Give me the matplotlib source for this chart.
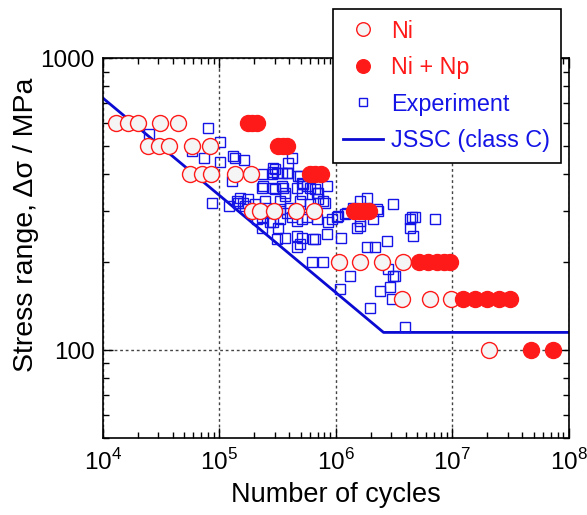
import math

import matplotlib
matplotlib.use("Agg")
import matplotlib.pyplot as plt
from matplotlib.ticker import FixedLocator, FuncFormatter, LogLocator, NullFormatter

plt.rcParams["font.family"] = ["Liberation Sans", "DejaVu Sans"]
plt.rcParams["mathtext.fontset"] = "custom"
plt.rcParams["mathtext.rm"] = "Liberation Sans"

# Ni (open circles): cycles, stress range (MPa)
ni_n = [1.29e4, 1.64e4, 2.02e4, 3.12e4, 4.42e4,
        2.46e4, 3.06e4, 3.72e4, 5.83e4, 8.34e4,
        5.64e4, 7.06e4, 8.53e4, 1.36e5, 1.87e5,
        1.90e5, 2.24e5, 2.93e5, 4.56e5, 6.46e5,
        1.07e6, 1.63e6, 2.51e6, 3.80e6,
        3.69e6, 6.5e6, 9.7e6,
        2.07e7]
ni_s = [600, 600, 600, 600, 600,
        500, 500, 500, 500, 500,
        400, 400, 400, 400, 400,
        300, 300, 300, 300, 300,
        200, 200, 200, 200,
        150, 150, 150,
        100]

# Ni + Np (filled circles)
np_n = [1.76e5, 1.91e5, 2.10e5,
        3.18e5, 3.52e5, 3.81e5,
        6.0e5, 6.62e5, 7.45e5,
        1.43e6, 1.58e6, 1.74e6, 1.92e6,
        5.16e6, 6.17e6, 7.36e6, 8.45e6, 9.5e6,
        1.24e7, 1.57e7, 2.0e7, 2.53e7, 3.14e7,
        4.78e7, 7.33e7]
np_s = [600, 600, 600,
        500, 500, 500,
        400, 400, 400,
        300, 300, 300, 300,
        200, 200, 200, 200, 200,
        150, 150, 150, 150, 150,
        100, 100]

# Experiment (open squares)
exp_n = [2.5e4, 8.0e4, 5.8e4, 7.4e4, 1.01e5, 1.01e5, 1.36e5, 1.64e5, 1.28e5, 2.39e5,
         2.31e5, 8.6e4, 1.22e5, 2.9e5, 3.43e5, 3.91e5, 4.18e5, 3.91e5, 4.92e5, 5.09e5,
         8.34e5, 7.06e5, 2.39e5, 2.9e5, 3.43e5, 3.66e5, 3.0e5, 2.81e5, 3.78e5, 4.76e5,
         6.62e5, 5.62e5, 5.09e5, 3.54e5, 3.66e5, 3.0e5, 7.8e5, 7.06e5, 1.05e6, 9.2e5,
         8.6e5, 1.2e6, 2.9e5, 3.32e5, 4.18e5, 5.09e5, 3.66e5, 5.09e5, 6.62e5, 8.34e5,
         1.12e6, 6.2e5, 7.8e5, 1.08e6, 1.32e5, 2.9e5, 3.11e5, 4.61e5, 5.25e5, 6.0e5,
         6.84e5, 1.41e5, 1.61e5, 2.47e5, 3.32e5, 4.92e5, 6.0e5, 8.07e5, 2.09e5, 2.72e5,
         4.61e5, 5.62e5, 6.84e5, 1.02e6, 3.11e5, 4.61e5, 6.4e5, 4.61e5, 4.92e5, 1.32e6,
         3.11e6, 1.84e6, 1.66e6, 2.24e6, 1.61e6, 4.47e6, 4.32e6, 4.61e6, 7.08e6, 2.73e6,
         1.84e6, 2.16e6, 3.11e6, 2.91e6, 2.39e6, 3.01e6, 1.96e6, 3.92e6, 1.61e6, 1.41e6,
         1.24e6, 2.31e6, 2.09e6, 1.61e6, 1.51e6, 4.32e6, 4.77e6, 2.81e6, 3.21e6,
         1.51e5, 1.76e5, 2.02e5, 2.15e5, 2.5e5, 2.34e5, 1.9e5, 1.67e5, 3.32e5, 4.05e5,
         3.8e5, 4.5e5, 2.6e5, 1.45e5, 3.2e5, 2.34e5]
exp_s = [551, 576, 480, 455, 515, 440, 455, 449, 379, 400,
         360, 320, 312, 407, 405, 403, 455, 438, 394, 374,
         365, 346, 365, 360, 365, 337, 416, 400, 405, 394,
         355, 365, 342, 360, 346, 355, 324, 329, 288, 281,
         274, 292, 274, 281, 285, 281, 243, 243, 240, 250,
         243, 200, 200, 162, 461, 421, 405, 360, 370, 360,
         346, 324, 320, 324, 324, 324, 316, 320, 281, 274,
         277, 285, 281, 285, 240, 246, 240, 225, 231, 180,
         316, 333, 304, 304, 267, 285, 263, 246, 281, 237,
         225, 225, 180, 164, 160, 150, 139, 120, 324, 308,
         296, 300, 281, 277, 263, 281, 285, 190, 180,
         333, 329, 316, 296, 308, 285, 300, 312, 304, 308,
         294, 300, 294, 320, 263, 263]

# JSSC class C design curve
jssc_n = [1e4, 2.57e6, 1e8]
jssc_s = [731, 115, 115]

fig = plt.figure(figsize=(5.87, 5.15), dpi=100)
ax = fig.add_axes([0.175, 0.1495, 0.794, 0.7375])

blue = "#1414e6"
red = "#ff1a1a"

ax.plot(jssc_n, jssc_s, color="#0a0ad2", lw=2.0, zorder=2, label="JSSC (class C)")
ax.plot(exp_n, exp_s, ls="none", marker="s", ms=7.5, mfc="none", mec=blue,
        mew=1.0, zorder=3, label="Experiment")
ax.plot(ni_n, ni_s, ls="none", marker="o", ms=11.5, mfc="#f5f5f5", mec=red,
        mew=1.0, zorder=4, label="Ni")
ax.plot(np_n, np_s, ls="none", marker="o", ms=11.5, mfc=red, mec=red,
        mew=1.0, zorder=5, label="Ni + Np")

ax.set_xscale("log")
ax.set_yscale("log")
ax.set_xlim(1e4, 1e8)
ax.set_ylim(50, 1000)

ax.xaxis.set_major_locator(LogLocator(base=10, numticks=10))
ax.xaxis.set_minor_locator(LogLocator(base=10, subs=range(2, 10), numticks=20))
ax.xaxis.set_major_formatter(FuncFormatter(lambda v, p: "10$^{%d}$" % round(math.log10(v))))
ax.xaxis.set_minor_formatter(NullFormatter())
ax.yaxis.set_major_locator(FixedLocator([100, 1000]))
ax.yaxis.set_minor_locator(FixedLocator([50, 60, 70, 80, 90, 200, 300, 400, 500, 600, 700, 800, 900]))
ax.yaxis.set_major_formatter(FuncFormatter(lambda v, p: "%d" % v))
ax.yaxis.set_minor_formatter(NullFormatter())

ax.tick_params(which="both", direction="in", top=True, right=True, labelsize=17.5, width=1.0)
ax.tick_params(axis="y", which="major", length=7, pad=6)
ax.tick_params(axis="x", which="major", length=7, pad=8)
ax.tick_params(which="minor", length=4)
ax.grid(True, which="major", ls=(0, (2, 2)), color="#444444", lw=1.0)
for sp in ax.spines.values():
    sp.set_linewidth(1.2)

ax.set_xlabel("Number of cycles", fontsize=19.5, labelpad=5)
ax.set_ylabel("Stress range, Δσ / MPa", fontsize=20.5)
ax.yaxis.set_label_coords(-0.137, 0.56)

h, l = ax.get_legend_handles_labels()
order = [2, 3, 1, 0]
leg = fig.legend([h[i] for i in order], [l[i] for i in order], loc="upper left",
                 bbox_to_anchor=(0.567, 0.9825), borderaxespad=0, fontsize=16.8,
                 frameon=True, fancybox=False, framealpha=1, edgecolor="black",
                 borderpad=0.45, labelspacing=0.58, handlelength=1.7,
                 handletextpad=0.35, markerscale=0.85)
leg.get_frame().set_linewidth(1.2)
for t, c in zip(leg.get_texts(), [red, red, blue, blue]):
    t.set_color(c)
leg.set_zorder(10)

fig.savefig("out.png", dpi=100)
